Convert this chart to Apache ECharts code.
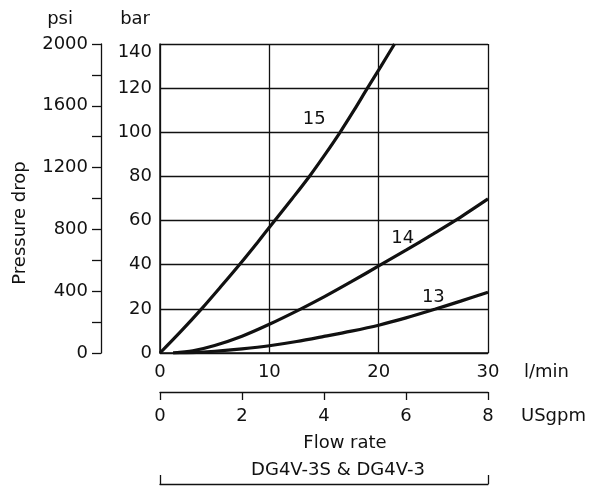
<!DOCTYPE html>
<html>
<head>
<meta charset="utf-8">
<script src="https://cdn.jsdelivr.net/npm/echarts@6/dist/echarts.min.js"></script>
<style>html,body{margin:0;padding:0;background:#fff}#c{width:592px;height:486px}</style>
</head>
<body>
<div id="c"></div>
<script>
// Flow (l/min), pressure drop (bar)
var curve15 = [[0,0],[1.95,10],[3.8,20],[5.55,30],[7.26,40],[8.9,50],[10.5,60],[12.1,70],[13.66,80],[15.1,90],[16.47,100],[17.75,110],[18.97,120],[20.22,130],[21.45,140]];
var curve14 = [[1.2,0],[3,1],[5,3.4],[7.5,7.6],[10,13],[12.9,20],[15,25.4],[17.5,32.3],[20.2,40],[22.5,46.6],[25,54],[27.5,61.6],[30,69.8]];
var curve13 = [[1.2,0],[3,0.2],[5,0.8],[7.5,1.9],[10,3.3],[12.5,5.2],[15,7.5],[17.5,9.9],[20,12.6],[22.5,15.9],[25.2,19.9],[27.5,23.5],[30,27.5]];
var curveNames = ['15','14','13'];
var labelPos = [[14.1,105.8],[22.2,51.9],[25.0,25.4]];
var barTicks = {min:0, max:140, interval:20};
var psiTicks = {min:0, max:2000, interval:400};
var lminTicks = {min:0, max:30, interval:10};
var gpmTicks = {min:0, max:8, interval:2};

var FONT = 'DejaVu Sans';
var INK = '#111';
var txt = {fontFamily: FONT, fontSize: 18, color: INK};
var chart = echarts.init(document.getElementById('c'), null, {renderer:'canvas'});
var curves = [curve15, curve14, curve13];
function plain(v){ return String(v); }

chart.setOption({
  animation: false,
  backgroundColor: '#fff',
  grid: {left: 160, top: 44, width: 328, height: 309},
  xAxis: [
    {type:'value', min:lminTicks.min, max:lminTicks.max, interval:lminTicks.interval,
     position:'bottom',
     axisLine:{show:true, onZero:false, lineStyle:{color:INK, width:1.5}},
     axisTick:{show:false},
     splitLine:{show:true, lineStyle:{color:INK, width:1.3}},
     axisLabel:Object.assign({margin:10, formatter:plain}, txt),
     name:'l/min', nameLocation:'end', nameGap:36,
     nameTextStyle:Object.assign({verticalAlign:'top', padding:[10,0,0,0], align:'left'}, txt)},
    {type:'value', min:gpmTicks.min, max:gpmTicks.max, interval:gpmTicks.interval,
     position:'bottom', offset:39,
     axisLine:{show:true, onZero:false, lineStyle:{color:INK, width:1.3}},
     axisTick:{show:true, length:8, lineStyle:{color:INK, width:1.3}},
     splitLine:{show:false},
     axisLabel:Object.assign({margin:15, formatter:plain}, txt),
     name:'USgpm', nameLocation:'end', nameGap:33,
     nameTextStyle:Object.assign({verticalAlign:'top', padding:[15,0,0,0], align:'left'}, txt)},
    {type:'value', min:lminTicks.min, max:lminTicks.max, interval:lminTicks.max,
     position:'bottom', offset:131,
     axisLine:{show:true, onZero:false, lineStyle:{color:INK, width:1.3}},
     axisTick:{show:true, inside:true, length:9, lineStyle:{color:INK, width:1.3}},
     splitLine:{show:false},
     axisLabel:{show:false}}
  ],
  yAxis: [
    {type:'value', min:barTicks.min, max:barTicks.max, interval:barTicks.interval,
     position:'left',
     axisLine:{show:true, onZero:false, lineStyle:{color:INK, width:1.5}},
     axisTick:{show:false},
     splitLine:{show:true, lineStyle:{color:INK, width:1.3}},
     axisLabel:Object.assign({margin:8,
       formatter:function(v){ return v===140 ? '{d|140}' : String(v); },
       rich:{d:{fontFamily:FONT, fontSize:18, color:INK, padding:[16,0,0,0]}}}, txt),
     name:'bar', nameLocation:'end', nameGap:16,
     nameTextStyle:Object.assign({align:'right', padding:[0,10,0,0]}, txt)},
    {type:'value', min:psiTicks.min, max:psiTicks.max, interval:psiTicks.interval,
     position:'left', offset:59,
     axisLine:{show:true, onZero:false, lineStyle:{color:INK, width:1.3}},
     axisTick:{show:true, length:9, lineStyle:{color:INK, width:1.3}},
     minorTick:{show:true, splitNumber:2, length:9, lineStyle:{color:INK, width:1.3}},
     splitLine:{show:false},
     axisLabel:Object.assign({margin:13, formatter:plain}, txt),
     name:'psi', nameLocation:'end', nameGap:16,
     nameTextStyle:Object.assign({align:'right', padding:[0,28,0,0]}, txt)}
  ],
  series: curves.map(function(d, i){
    return {
      type:'line', xAxisIndex:0, yAxisIndex:0, data:d, smooth:0.3,
      showSymbol:false, symbol:'none',
      lineStyle:{color:INK, width:3.2},
      markPoint:{
        symbol:'circle', symbolSize:1, itemStyle:{color:'rgba(0,0,0,0)'},
        label:Object.assign({show:true, position:'inside', formatter:curveNames[i]}, txt),
        data:[{coord:labelPos[i], value:curveNames[i]}]
      }
    };
  }),
  graphic: [
    {type:'text', style:{text:'Flow rate', x:345, y:443, align:'center', verticalAlign:'middle', font:'18px "DejaVu Sans"', fill:INK}},
    {type:'text', style:{text:'DG4V-3S & DG4V-3', x:338, y:470, align:'center', verticalAlign:'middle', font:'18px "DejaVu Sans"', fill:INK}},
    {type:'text', x:20, y:223, rotation:Math.PI/2, style:{text:'Pressure drop', x:0, y:0, align:'center', verticalAlign:'middle', font:'18px "DejaVu Sans"', fill:INK}}
  ]
});
</script>
</body>
</html>
